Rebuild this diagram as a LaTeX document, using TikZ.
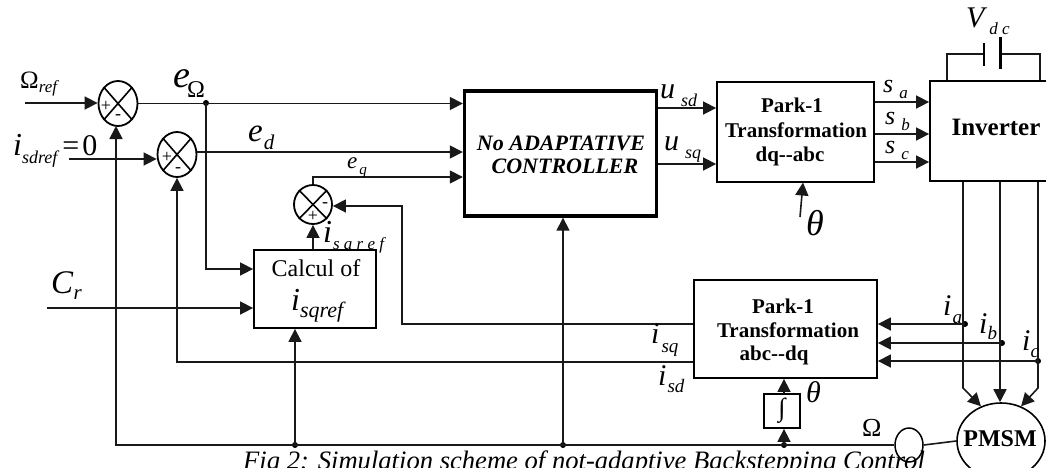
\documentclass[tikz,border=0pt]{standalone}
\usepackage{fontspec}
\setmainfont{Liberation Serif}
\usetikzlibrary{shapes.geometric,arrows.meta}
\newcommand{\fsz}[1]{\fontsize{#1}{#1}\selectfont}
% main letter size, letter, subscript drop, gap, subscript size, subscript
\newcommand{\lbl}[6]{{\fsz{#1}\textit{#2}}\hspace{#4pt}\raisebox{-#3pt}{\fsz{#5}\textit{#6}}}
\tikzset{
  wire/.style={line width=1.6pt,draw=black!90},
  arr/.style={wire,-{Triangle[length=13pt,width=13pt]}},
  blk/.style={draw=black,line width=1.8pt,fill=white,inner sep=0pt,align=center},
  sumn/.style={draw=black,line width=1.8pt,ellipse,fill=white,inner sep=0pt,minimum width=39pt,minimum height=45pt},
  dot/.style={circle,fill=black,inner sep=0pt,minimum size=6pt},
  tx/.style={inner sep=0pt,anchor=base west},
  btxt/.style={font=\fsz{21}\bfseries}
}
\begin{document}
\begin{tikzpicture}[x=1pt,y=-1pt]
\useasboundingbox (0,0) rectangle (1046,467);
\clip (0,0) rectangle (1046,467);
\fill[white] (0,0) rectangle (1046,467);

% label partly hidden by the block under it
\node[tx] (lisq) at (323,242) {\lbl{32}{i}{7}{1}{17}{s a r e f}};

% blocks
\node[blk,line width=3.4pt,minimum width=192pt,minimum height=125pt] (ctrl) at (560.5,153.5) {};
\node[font=\fsz{22}\bfseries\itshape,align=center,inner sep=0pt] (ctrlt) at (561,155) {No ADAPTATIVE\\[1pt]\hspace*{8pt}CONTROLLER};
\node[blk,minimum width=157pt,minimum height=100pt] (pk1) at (795.5,132) {};
\node[btxt,align=center,inner sep=0pt] (pk1t) at (796,132) {Park-1\hspace*{8pt}\\[3.5pt]Transformation\\[3.5pt]dq-{}-abc\hspace*{12pt}};
\node[blk,minimum width=120pt,minimum height=100pt] (inv) at (990,131) {};
\node[font=\fsz{25}\bfseries,inner sep=0pt] (invt) at (996,127) {Inverter};
\node[blk,minimum width=183pt,minimum height=98pt] (pk2) at (785.5,329) {};
\node[btxt,align=center,inner sep=0pt] (pk2t) at (788,332) {Park-1\hspace*{10pt}\\[2.5pt]Transformation\\[2.5pt]abc-{}-dq\hspace*{28pt}};
\node[blk,minimum width=122pt,minimum height=78pt] (calc) at (315,289) {};
\node[font=\fsz{24},inner sep=0pt] (calct) at (316,268) {Calcul of};
\node[blk,minimum width=36pt,minimum height=34pt] (intg) at (782,411) {\fsz{26}\bfseries ∫};
\node[draw=black,line width=1.5pt,ellipse,fill=white,inner sep=0pt,minimum width=28pt,minimum height=34pt] (tacho) at (909,445) {};
\node[draw=black,line width=1.6pt,ellipse,fill=white,inner sep=0pt,minimum width=88pt,minimum height=76pt] (pmsm) at (1001,441) {};
\node[font=\fsz{24}\bfseries,inner sep=0pt] (pmsmt) at (1000,439) {PMSM};

% summing junctions
\node[sumn] (s1) at (118,103.5) {};
\node[sumn] (s2) at (177,154.5) {};
\node[sumn,minimum width=38pt,minimum height=39pt] (s3) at (313,204.5) {};
\foreach \s in {s1,s2,s3}{
  \draw[line width=1.6pt] (\s.north west) -- (\s.south east);
  \draw[line width=1.6pt] (\s.north east) -- (\s.south west);
}
\node[font=\fsz{18},inner sep=0pt] (s1p) at (106,106) {+};
\node[font=\fsz{18},inner sep=0pt] (s1m) at (118,117) {-};
\node[font=\fsz{18},inner sep=0pt] (s2p) at (167,157) {+};
\node[font=\fsz{18},inner sep=0pt] (s2m) at (178,170) {-};
\node[font=\fsz{18},inner sep=0pt] (s3p) at (313,216) {+};
\node[font=\fsz{18},inner sep=0pt] (s3m) at (325,205) {-};

% free-end coordinates
\coordinate (omref) at (25,103);
\coordinate (idref) at (69,159);
\coordinate (crin) at (47,308);
\coordinate (thin) at (800,217);

% junctions
\node[dot] (je) at (206,103) {};
\node[dot] (j1) at (295,445) {};
\node[dot] (j2) at (563,445) {};
\node[dot] (j3) at (784,445) {};
\node[dot] (ja) at (965,324) {};
\node[dot] (jb) at (1002,343) {};
\node[dot] (jc) at (1038,361) {};

% connectors: top
\draw[arr] (omref) -- (s1.west |- omref);
\draw[arr] (s1.east) -- (ctrl.west |- s1.east);
\draw[arr] (idref) -- (s2.west |- idref);
\draw[arr] (s2.east |- 0,152) -- (ctrl.west |- 0,152);
\draw[arr] (s3.north) |- (ctrl.west |- 0,177);
\draw[arr] (je.center) |- (calc.west |- 0,269);
\draw[arr] (crin) -- (calc.west |- crin);
\draw[arr] (calc.north -| s3.south) -- (s3.south);
\draw[arr] (ctrl.east |- 0,108) -- (pk1.west |- 0,108);
\draw[arr] (ctrl.east |- 0,164) -- (pk1.west |- 0,164);
\draw[arr] (pk1.east |- 0,102) -- (inv.west |- 0,102);
\draw[arr] (pk1.east |- 0,134) -- (inv.west |- 0,134);
\draw[arr] (pk1.east |- 0,162) -- (inv.west |- 0,162);
\draw[arr] (thin) -- (803,182.5);

% DC link
\coordinate (capl) at (984,54);
\coordinate (capr) at (1000,54);
\draw[wire] (inv.north -| 947,0) -- (947,54) -- (capl);
\draw[wire] (inv.north -| 1040,0) -- (1040,54) -- (capr);
\draw[line width=1.6pt] (984,43) -- (984,66);
\draw[line width=3pt] (1000,37) -- (1000,69);

% phases to motor
\draw[arr] (inv.south -| 963,0) -- (963,388) -- (pmsm.120);
\draw[arr] (inv.south -| 1000,0) -- (pmsm.north -| 1000,0);
\draw[arr] (inv.south -| 1038,0) -- (1038,388) -- (pmsm.60);

% current measurement
\draw[arr] (ja.center) -- (pk2.east |- ja);
\draw[arr] (jb.center) -- (pk2.east |- jb);
\draw[arr] (jc.center) -- (pk2.east |- jc);

% feedback
\draw[arr] (pk2.west |- 0,324) -- (402,324) -- (402,206) -- (s3.east |- 0,206);
\draw[arr] (pk2.west |- 0,362) -- (177,362) -- (s2.south);
\draw[arr] (tacho.west) -- (116,445) -- (116,126);
\draw[arr] (j1.center) -- (calc.south -| j1);
\draw[arr] (j2.center) -- (ctrl.south -| j2);
\draw[arr] (j3.center) -- (intg.south -| j3);
\draw[arr] (intg.north -| j3) -- (pk2.south -| j3);
\draw[wire] (tacho.east) -- (pmsm.west);

% labels
\node[tx] (lomref) at (20,88) {\fsz{25}Ω\raisebox{-4pt}{\fsz{17}\textit{ref}}};
\node[tx] (lisd) at (13,155) {\lbl{32}{i}{8}{0}{18}{sdref}\hspace{3pt}\fsz{30}=\hspace{3pt}0};
\node[tx] (lcr) at (51,293) {\lbl{33}{C}{6}{0}{21}{r}};
\node[tx] (leo) at (173,87) {\fsz{38}\textit{e}\hspace{-3pt}\raisebox{-10pt}{\fsz{24}Ω}};
\node[tx] (led) at (248,141) {\lbl{33}{e}{8}{1}{21}{d}};
\node[tx] (leq) at (347,168) {\lbl{23}{e}{6}{2}{15}{q}};
\node[tx] (lcalc) at (291,310) {\lbl{32}{i}{7}{0}{22}{sqref}};
\node[tx] (lusd) at (660,98) {\lbl{30}{u}{8}{6}{18}{sd}};
\node[tx] (lusq) at (664,150) {\lbl{30}{u}{8}{6}{18}{sq}};
\node[tx] (lsa) at (883,92) {\lbl{26}{s}{6}{6}{17}{a}};
\node[tx] (lsb) at (885,124) {\lbl{26}{s}{6}{6}{17}{b}};
\node[tx] (lsc) at (885,153) {\lbl{26}{s}{6}{6}{17}{c}};
\node[tx] (lv) at (966,27) {\lbl{30}{V}{7}{2}{17}{d c}};
\node[tx] (lth1) at (806,235) {\fsz{36}\textit{θ}};
\node[tx] (lth2) at (806,402) {\fsz{30}\textit{θ}};
\node[tx] (lom) at (862,436) {\fsz{26}Ω};
\node[tx] (lia) at (943,315) {\lbl{30}{i}{8}{1}{19}{a}};
\node[tx] (lib) at (979,333) {\lbl{30}{i}{6}{0}{19}{b}};
\node[tx] (lic) at (1022,350) {\lbl{30}{i}{7}{0}{19}{c}};
\node[tx] (lsq) at (651,343) {\lbl{30}{i}{9}{2}{19}{sq}};
\node[tx] (lsd) at (658,385) {\lbl{30}{i}{7}{1}{19}{sd}};
\node[tx] (capt) at (243,469) {\fsz{26.6}\textit{Fig 2: Simulation scheme of not-adaptive Backstepping Control}};
\end{tikzpicture}
\end{document}
